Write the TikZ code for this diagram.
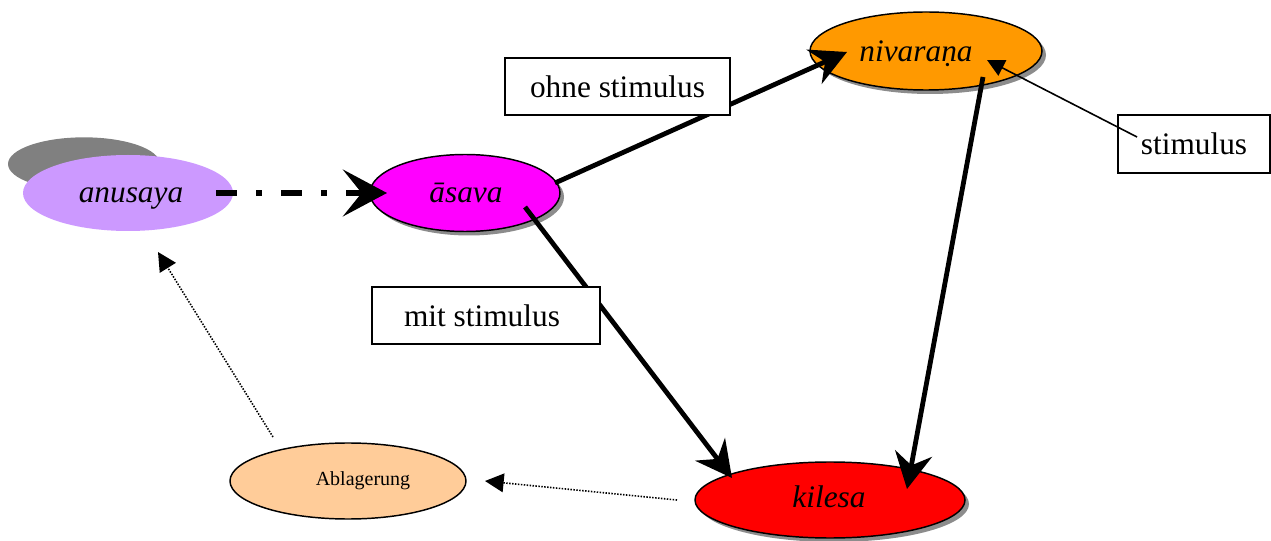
\documentclass[tikz,border=0pt]{standalone}
\usepackage{fontspec}
\setmainfont{Liberation Serif}
\usetikzlibrary{arrows.meta,shapes.geometric,calc,shadows}
\definecolor{lav}{HTML}{CC99FF}
\definecolor{mag}{HTML}{FF00FF}
\definecolor{orng}{HTML}{FF9900}
\definecolor{rd}{HTML}{FF0000}
\definecolor{peach}{HTML}{FFCC99}
\definecolor{backgray}{HTML}{808080}
\begin{document}
\begin{tikzpicture}[x=0.75pt,y=-0.75pt,
  ell/.style={ellipse, inner sep=0pt, draw=black, line width=1.1pt},
  shad/.style={drop shadow={shadow xshift=3pt, shadow yshift=-3pt, fill=black!45, opacity=1}},
  lbl/.style={anchor=base, inner sep=0pt, font=\fontsize{23.5}{28}\selectfont\itshape},
  smalllbl/.style={anchor=base, inner sep=0pt, font=\fontsize{15}{18}\selectfont},
  boxnode/.style={draw, line width=1.1pt, fill=white, inner sep=0pt, font=\fontsize{23.5}{28}\selectfont},
  thickarrow/.style={line width=3.6pt, -{Stealth[length=27pt,width=28pt,inset=9pt]}},
  dasharrow/.style={line width=4.8pt, dash pattern=on 15.75pt off 14.25pt on 4.5pt off 14.25pt, -{Stealth[length=33pt,width=35pt,inset=14pt]}},
  thinarrow/.style={line width=1.2pt, -{Triangle[length=13pt,width=13pt]}},
  dotarrow/.style={line width=1.2pt, dash pattern=on 1.1pt off 1.1pt, -{Triangle[length=14pt,width=14pt]}},
]
\useasboundingbox (0,0) rectangle (1271,541);
% ellipses
\node[ellipse, inner sep=0pt, fill=backgray, minimum width=114pt, minimum height=40pt] (anusayaback) at (84,164) {};
\node[ellipse, inner sep=0pt, fill=lav, minimum width=157.5pt, minimum height=57pt] (anusaya) at (128,193) {};
\node[ell, shad, fill=mag, minimum width=142.5pt, minimum height=57.75pt] (asava) at (465,193) {};
\node[ell, shad, fill=orng, minimum width=174pt, minimum height=58.5pt] (nivarana) at (926,51) {};
\node[ell, shad, fill=rd, minimum width=202.5pt, minimum height=57pt] (kilesa) at (830,500) {};
\node[ell, fill=peach, minimum width=177pt, minimum height=57pt] (ablagerung) at (348,481) {};
% labels
\node[lbl] (tanusaya) at (131,203) {anusaya};
\node[lbl] (tasava) at (466,203) {āsava};
\node[lbl] (tnivarana) at (916,62) {nivaraṇa};
\node[lbl] (tkilesa) at (829,508) {kilesa};
\node[smalllbl] (tablagerung) at (363,485) {Ablagerung};
% connectors
\draw[dasharrow] ($(anusaya.center)+(88,0)$) -- ($(asava.center)+(-78,0)$);
\draw[thickarrow] ($(asava.center)+(90,-10)$) -- ($(nivarana.center)+(-79,1)$);
\draw[thickarrow] ($(asava.center)+(60,14)$) -- ($(kilesa.center)+(-98,-22)$);
\draw[thickarrow] ($(nivarana.center)+(57,26)$) -- ($(kilesa.center)+(77,-11)$);
\draw[dotarrow] ($(kilesa.center)+(-153,0)$) -- ($(ablagerung.center)+(137,0)$);
\draw[dotarrow] ($(ablagerung.center)+(-75,-44)$) -- ($(anusaya.center)+(30,59)$);
% boxes
\node[boxnode, minimum width=168.75pt, minimum height=42.75pt] (ohne) at (617.5,86.5) {ohne stimulus};
\node[boxnode, minimum width=171pt, minimum height=42.75pt] (mit) at (486,315.5) {\hspace*{-6pt}mit stimulus};
\node[boxnode, minimum width=114pt, minimum height=43.5pt] (stim) at (1194,144) {stimulus};
\draw[thinarrow] ($(stim.center)+(-57,-7)$) -- ($(nivarana.center)+(61,9)$);
\end{tikzpicture}
\end{document}
